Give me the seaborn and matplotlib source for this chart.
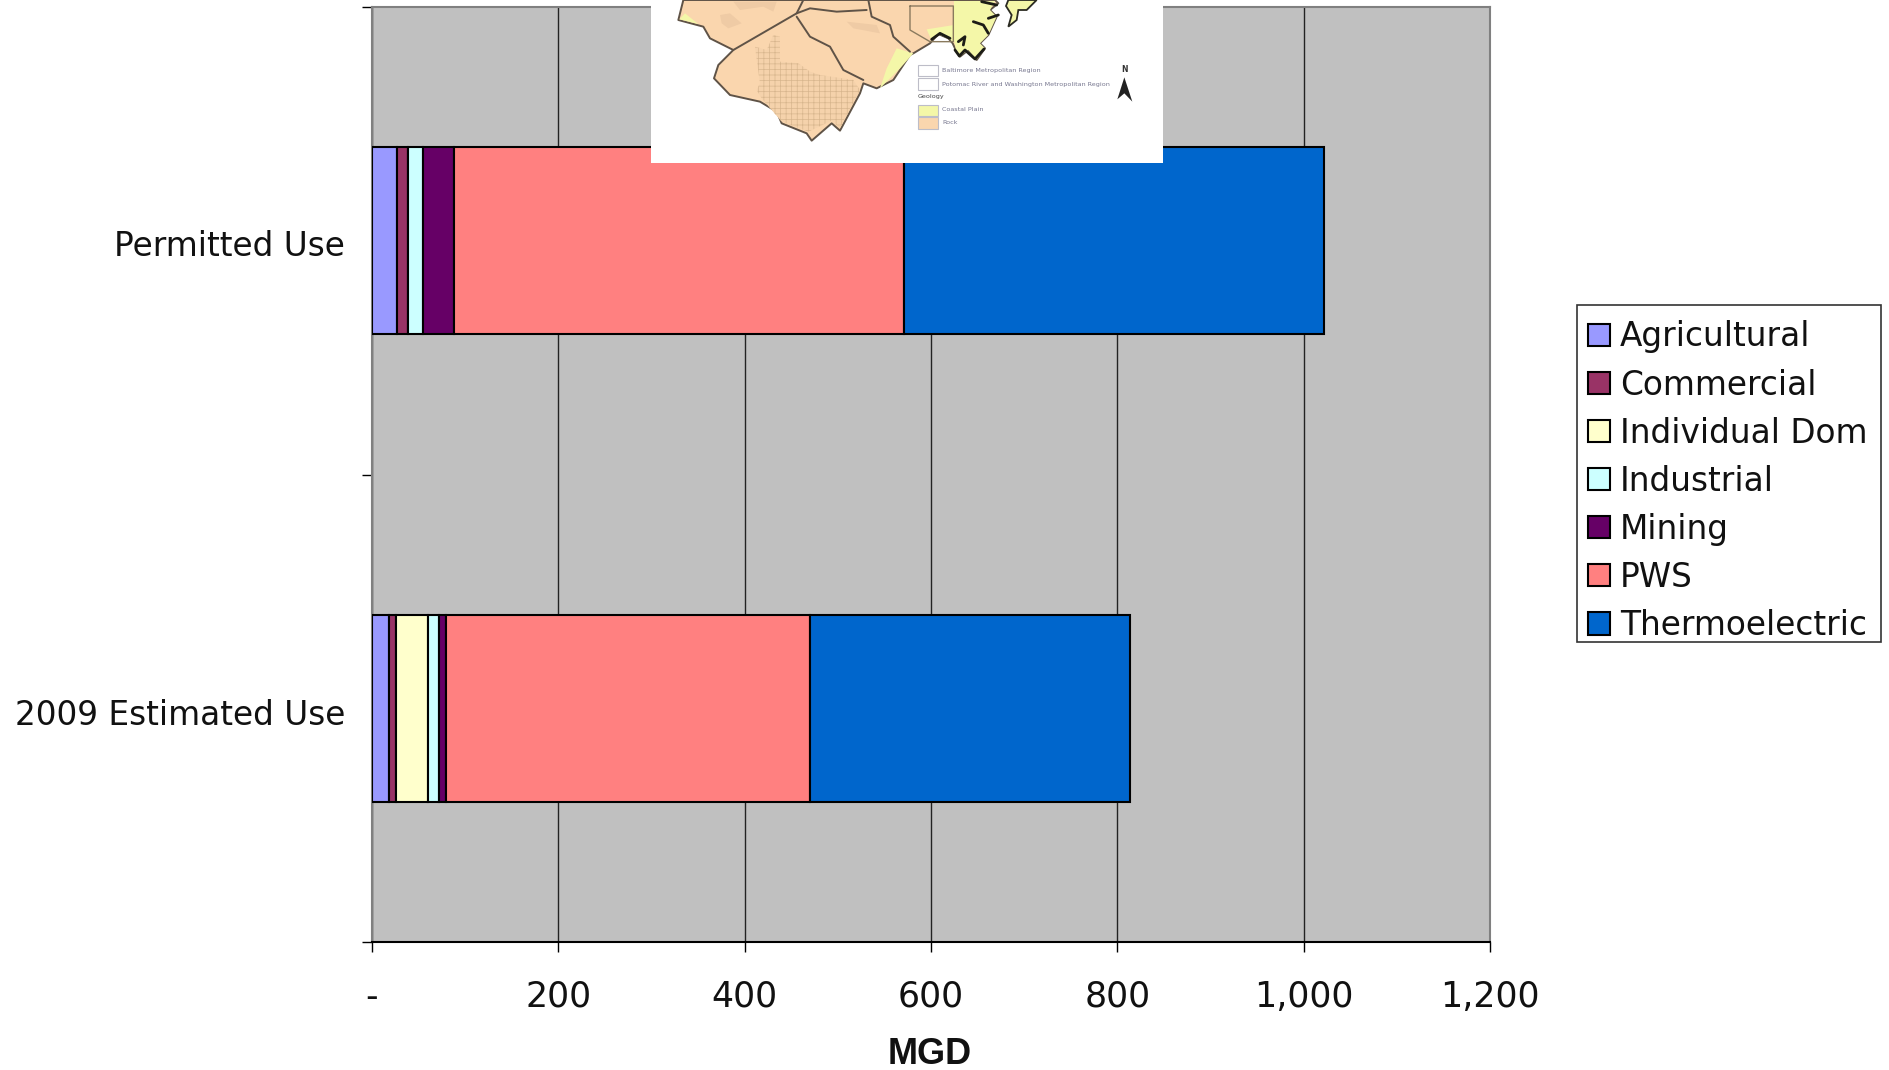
#!/usr/bin/env python3
"""Water use by sector, stacked horizontal bars, with the map clipping on top."""
import matplotlib
matplotlib.use("Agg")
import matplotlib.pyplot as plt
from matplotlib.patches import Polygon, Rectangle
import numpy as np
import pandas as pd
import seaborn as sns

SOURCES = ["Permitted Use", "2009 Estimated Use"]
SECTORS = ["Agricultural", "Commercial", "Individual Dom", "Industrial",
           "Mining", "PWS", "Thermoelectric"]
PERMITTED = [27, 11.5, 0.5, 16, 33.5, 483, 450]
ESTIMATED = [18, 7.5, 34.5, 11.5, 8, 391, 343]
COLOURS = ["#9999FF", "#993366", "#FFFFCC", "#CCFFFF", "#660066", "#FF8080", "#0066CC"]
X_TICKS = [0, 200, 400, 600, 800, 1000, 1200]
X_LABELS = ["-", "200", "400", "600", "800", "1,000", "1,200"]

W, H = 1890, 1070
FONT = 23.6


def z5(pts):
    return [(640 + x / 3, y / 3) for x, y in pts]


def z6(pts):
    return [(880 + x / 3, y / 3) for x, y in pts]


def draw_map(fig):
    # The pasted map picture: white card, peach rock, yellow coastal plain
    box = (651, 0, 512, 163)
    ax = fig.add_axes([box[0] / W, 1 - box[3] / H, box[2] / W, box[3] / H], zorder=5)
    ax.set_xlim(box[0], box[0] + box[2])
    ax.set_ylim(box[3], 0)
    ax.axis("off")
    ax.add_patch(Rectangle((box[0], 0), box[2], box[3], fc="white", ec="none"))

    rock = "#FAD6AE"
    coast = "#F4F7A8"
    line = "#5F5347"
    shore = z6([(100, 160), (150, 130), (175, 102), (205, 115), (218, 130), (228, 152),
                (240, 170), (265, 150), (290, 180), (315, 145), (300, 130), (325, 105),
                (350, 50), (330, 30), (355, 10), (345, 0)])
    land = z5([(130, 0), (115, 60), (190, 80), (210, 115), (280, 150), (235, 195),
               (222, 235), (270, 285), (360, 305), (410, 335), (425, 370), (500, 400),
               (515, 422), (575, 370), (600, 392), (660, 280), (670, 250), (710, 265),
               (760, 240), (810, 165)]) + shore
    ax.add_patch(Polygon(land, fc=rock, ec=line, lw=1.4, joinstyle="round"))

    for pts in (
        z6([(222, 3), (345, 3), (330, 30), (350, 50), (325, 105), (300, 130), (315, 145),
            (290, 178), (265, 150), (240, 168), (228, 150), (222, 120)]),
        z6([(140, 88), (222, 75), (222, 128), (205, 115), (175, 102), (155, 122)]),
        z6([(0, 265), (60, 205), (100, 160), (50, 145), (20, 205)]),
        z5([(118, 58), (135, 40), (175, 72)]),
    ):
        ax.add_patch(Polygon(pts, fc=coast, ec="none"))

    # faint geology contours inside the rock area
    for pts in (
        z5([(240, 45), (270, 40), (305, 70), (265, 85), (245, 70)]),
        z5([(280, 5), (410, 5), (400, 35), (370, 20), (300, 30)]),
        z5([(620, 65), (710, 75), (720, 100), (640, 85)]),
    ):
        ax.add_patch(Polygon(pts, fc="#EFCBA5", ec="none"))

    grid = z5([(345, 140), (360, 250), (350, 270), (365, 295), (425, 365), (505, 395),
               (575, 362), (600, 385), (660, 270), (640, 240), (540, 225), (510, 215),
               (475, 190), (420, 185), (420, 110), (400, 105), (380, 150)])
    ax.add_patch(Polygon(grid, fc="#F5D2AB", ec="#D8B68E", hatch="+++", lw=0))

    for pts in (
        z5([(490, 0), (470, 40), (280, 150)]),
        z5([(470, 50), (510, 110), (570, 140), (610, 210), (670, 240)]),
        z5([(470, 40), (510, 25), (590, 35), (680, 30)]),
        z5([(685, 0), (695, 50), (750, 75), (760, 110), (810, 155)]),
    ):
        ax.plot(*zip(*pts), color=line, lw=1.4)
    box_pts = z6([(90, 18), (220, 18), (220, 125), (150, 125), (90, 90), (90, 18)])
    ax.plot(*zip(*box_pts), color="#8A7A5E", lw=1.0)

    # Chesapeake shoreline and the eastern shore piece
    for pts in (
        z6([(155, 118), (180, 100), (210, 115)]),
        z6([(225, 150), (238, 168), (255, 150), (285, 177), (312, 147)]),
        z6([(280, 65), (310, 75), (325, 100)]),
        z6([(305, 5), (350, 15)]),
        z6([(325, 55), (355, 45)]),
        z6([(235, 125), (255, 110), (250, 135)]),
    ):
        ax.plot(*zip(*pts), color="#1C1C16", lw=2.0)
    ax.add_patch(Polygon(z6([(378, 18), (395, 45), (385, 80), (410, 60), (415, 30),
                             (440, 30), (470, 0), (385, 0)]),
                         fc=coast, ec="#2B2B22", lw=1.3))

    # Map legend
    for y, fc in ((195, "white"), (235, "white"), (315, coast), (352, rock)):
        ax.add_patch(Polygon(z6([(113, y), (175, y), (175, y + 34), (113, y + 34)]),
                             fc=fc, ec="#BDBDC8", lw=0.8))
    for y, txt, c in ((211, "Baltimore Metropolitan Region", "#77778F"),
                      (253, "Potomac River and Washington Metropolitan Region", "#77778F"),
                      (290, "Geology", "#444444"),
                      (328, "Coastal Plain", "#77778F"),
                      (366, "Rock", "#77778F")):
        (px, py), = z6([(186 if txt != "Geology" else 113, y)])
        ax.text(px, py, txt, fontsize=4.6, color=c, va="center", ha="left")
    (nx, ny), = z6([(735, 208)])
    ax.text(nx, ny, "N", fontsize=5.5, fontweight="bold", color="#333333", ha="center", va="center")
    ax.add_patch(Polygon(z6([(733, 232), (712, 298), (733, 280), (757, 305)]), fc="#222222", ec="none"))


sns.set_theme(style="white")
plt.rcParams["font.family"] = ["DejaVu Sans"]
plt.rcParams["hatch.linewidth"] = 0.5

df = pd.DataFrame({"source": np.repeat(SOURCES, len(SECTORS)),
                   "sector": SECTORS * 2,
                   "mgd": PERMITTED + ESTIMATED})

fig = plt.figure(figsize=(W / 100, H / 100), dpi=100, facecolor="white")
ax = fig.add_axes([372 / W, 1 - 942 / H, (1490 - 372) / W, (942 - 7) / H], facecolor="#C0C0C0")

left = np.zeros(len(SOURCES))
for sector, colour in zip(SECTORS, COLOURS):
    part = df[df["sector"] == sector]
    sns.barplot(data=part, y="source", x="mgd", order=SOURCES, color=colour, saturation=1,
                width=0.4, left=left, edgecolor="black", linewidth=1.5, label=sector,
                errorbar=None, ax=ax, zorder=3)
    left = left + part["mgd"].to_numpy()

ax.set_xlim(0, 1200)
ax.set_ylim(1.5, -0.5)
ax.set_xticks(X_TICKS, X_LABELS, fontsize=25, color="#111111")
ax.set_yticks([-0.5, 0.5, 1.5], ["", "", ""])
ax.tick_params(axis="both", length=7.2, width=1, color="black", bottom=True, left=True)
ax.tick_params(axis="x", pad=20)
ax.xaxis.grid(True, color="#222222", lw=1)
ax.yaxis.grid(False)
ax.set_axisbelow(True)
ax.set_xlabel("")
ax.set_ylabel("")

# category names sit between the tick marks
for i, name in enumerate(SOURCES):
    ax.text(345 / W, 1 - (246.5 + i * 469) / H, name, transform=fig.transFigure, ha="right",
            va="center", fontsize=FONT, color="#111111")
fig.text(930 / W, 1 - 1054 / H, "MGD", ha="center", va="center", fontsize=26,
         fontweight="bold", color="#111111", family="Liberation Sans")

for side in ("left", "right", "top"):
    ax.spines[side].set_color("#808080")
    ax.spines[side].set_linewidth(1.5)
ax.spines["bottom"].set_color("black")
ax.spines["bottom"].set_linewidth(1.5)

# legend frame is drawn by hand, the text block sits low inside it
fig.add_artist(Rectangle((1577 / W, 1 - 642 / H), 304 / W, 337 / H, transform=fig.transFigure,
                         fc="white", ec="#333333", lw=1.2, zorder=-1))
leg = ax.legend(loc="upper left", bbox_to_anchor=(1588 / W, 1 - 320.5 / H),
                bbox_transform=fig.transFigure, borderaxespad=0, borderpad=0, fontsize=FONT,
                handlelength=0.66, handleheight=0.66, handletextpad=0.32,
                labelspacing=0.46, frameon=False, labelcolor="#111111")

draw_map(fig)

fig.savefig("out.png", dpi=100)
